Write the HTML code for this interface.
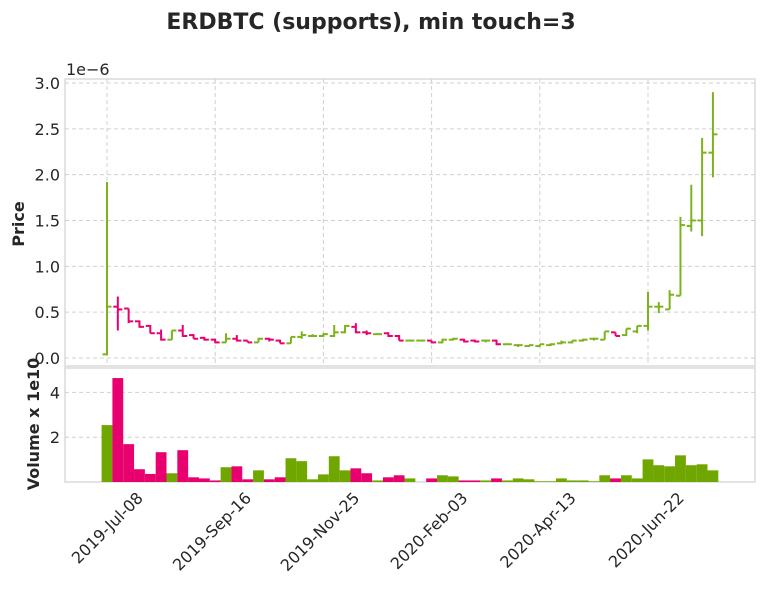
<!DOCTYPE html>
<html><head><meta charset="utf-8"><style>
body{margin:0;background:#fff;}
svg text{font-family:"DejaVu Sans","Liberation Sans",sans-serif;fill:#262626;}
</style></head><body>
<svg id="chart" width="764" height="585" xmlns="http://www.w3.org/2000/svg">
<text x="371" y="29" text-anchor="middle" font-size="22" font-weight="bold">ERDBTC (supports), min touch=3</text>
<g id="price"></g><g id="vol"></g>
</svg>
<script>
const dateLabels=['2019-Jul-08','2019-Sep-16','2019-Nov-25','2020-Feb-03','2020-Apr-13','2020-Jun-22'];
const dateIdx=[0,10,20,30,40,50];
const priceTicks=[0,0.5,1,1.5,2,2.5,3];
const volTicks=[2,4];
const opens=[0.04,0.56,0.54,0.40,0.35,0.27,0.20,0.30,0.25,0.22,0.20,0.17,0.21,0.19,0.17,0.21,0.19,0.16,0.23,0.24,0.24,0.24,0.28,0.34,0.28,0.26,0.27,0.24,0.19,0.19,0.19,0.17,0.20,0.20,0.19,0.19,0.19,0.15,0.14,0.13,0.13,0.14,0.16,0.17,0.19,0.21,0.20,0.28,0.25,0.29,0.35,0.56,0.53,0.68,1.44,1.50,2.24];
const highs=[1.92,0.67,0.54,0.41,0.36,0.31,0.30,0.36,0.26,0.23,0.21,0.27,0.25,0.19,0.22,0.22,0.20,0.23,0.29,0.26,0.27,0.36,0.36,0.38,0.30,0.27,0.28,0.25,0.20,0.19,0.19,0.21,0.22,0.21,0.20,0.20,0.20,0.16,0.15,0.14,0.15,0.16,0.19,0.19,0.21,0.22,0.29,0.28,0.32,0.35,0.72,0.61,0.74,1.54,1.89,2.40,2.90];
const lows=[0.03,0.30,0.38,0.33,0.27,0.19,0.20,0.23,0.21,0.19,0.16,0.17,0.18,0.17,0.17,0.18,0.16,0.16,0.21,0.23,0.23,0.23,0.27,0.27,0.25,0.26,0.23,0.19,0.18,0.18,0.16,0.16,0.19,0.17,0.17,0.17,0.14,0.15,0.12,0.12,0.12,0.13,0.15,0.16,0.18,0.19,0.20,0.24,0.24,0.27,0.30,0.49,0.53,0.68,1.38,1.33,1.97];
const closes=[0.56,0.53,0.40,0.34,0.27,0.20,0.30,0.24,0.21,0.20,0.17,0.21,0.19,0.17,0.21,0.20,0.16,0.23,0.25,0.24,0.26,0.28,0.35,0.28,0.27,0.26,0.24,0.19,0.19,0.19,0.17,0.20,0.21,0.18,0.18,0.19,0.15,0.15,0.14,0.14,0.15,0.15,0.17,0.19,0.20,0.21,0.29,0.24,0.32,0.35,0.56,0.56,0.69,1.45,1.50,2.24,2.44];
const volumes=[2.54,4.64,1.69,0.57,0.36,1.33,0.39,1.42,0.21,0.16,0.07,0.66,0.70,0.12,0.52,0.12,0.21,1.06,0.93,0.12,0.34,1.15,0.52,0.61,0.39,0.07,0.21,0.30,0.16,0,0.16,0.30,0.25,0.07,0.07,0.07,0.16,0.07,0.16,0.12,0.03,0.03,0.16,0.07,0.07,0.03,0.30,0.16,0.30,0.16,1.01,0.75,0.70,1.19,0.75,0.79,0.52];

const NS='http://www.w3.org/2000/svg';
const L=65,R=755,PT=79,PB=366,VT=368,VB=482;
const x=i=>107+i*10.82;
const yP=v=>358-v*91.67;
const yV=v=>482-v*22.4;
const G='#7db21c',Rd='#e8006f',VG='#6fa600',VR='#e8006f';
function el(p,t,a){const e=document.createElementNS(NS,t);for(const k in a)e.setAttribute(k,a[k]);p.appendChild(e);return e;}
const pg=document.getElementById('price'),vg=document.getElementById('vol');
const pf=el(pg,'rect',{x:L,y:PT,width:R-L,height:PB-PT,fill:'#fff',stroke:'#e3e3e3','stroke-width':2});

const vf=el(vg,'rect',{x:L,y:VT,width:R-L,height:VB-VT,fill:'#fff',stroke:'#e3e3e3','stroke-width':2});

priceTicks.forEach(t=>{
 const g=el(pg,'line',{x1:L,x2:R,y1:yP(t),y2:yP(t),stroke:'#d0d0d0','stroke-dasharray':'4,3'});
 
 const tx=el(pg,'text',{x:60,y:yP(t)+6,'text-anchor':'end','font-size':16});tx.textContent=t.toFixed(1);
 
});
volTicks.forEach(t=>{
 const g=el(vg,'line',{x1:L,x2:R,y1:yV(t),y2:yV(t),stroke:'#d0d0d0','stroke-dasharray':'4,3'});
 
 const tx=el(vg,'text',{x:60,y:yV(t)+6,'text-anchor':'end','font-size':16});tx.textContent=t;
 
});
dateIdx.forEach((d,k)=>{
 [[PT,PB],[VT,VB]].forEach(r=>{
  const g=el(pg,'line',{x1:x(d),x2:x(d),y1:r[0],y2:r[1],stroke:'#d0d0d0','stroke-dasharray':'4,3'});
  
 });
 const tx=el(vg,'text',{x:0,y:0,'text-anchor':'end','font-size':16,transform:`translate(${x(d)+37},${VB+17}) rotate(-45)`});
 tx.textContent=dateLabels[k];
 
});
opens.forEach((o,i)=>{
 const c=closes[i],col=c>=o?G:Rd,xc=x(i);
 const g=el(pg,'g',{stroke:col,'stroke-width':2});
 
 el(g,'line',{x1:xc,x2:xc,y1:yP(highs[i]),y2:yP(lows[i])});
 el(g,'line',{x1:xc-4.5,x2:xc,y1:yP(o),y2:yP(o)});
 el(g,'line',{x1:xc,x2:xc+4.5,y1:yP(c),y2:yP(c)});
 const v=volumes[i],h=v*22.4;
 if(h>0){const b=el(vg,'rect',{x:xc-5.41,y:yV(v),width:10.82,height:h,fill:c>=o?VG:VR});
 }
});
const e6=el(pg,'text',{x:66,y:75,'font-size':16});e6.textContent='1e\u22126';

const yl=el(pg,'text',{x:0,y:0,'text-anchor':'middle','font-size':16,'font-weight':'bold',transform:'translate(24,224) rotate(-90)'});yl.textContent='Price';

const vl=el(vg,'text',{x:0,y:0,'text-anchor':'middle','font-size':16,'font-weight':'bold',transform:'translate(39,424) rotate(-90)'});vl.textContent='Volume x 1e10';

</script>
</body></html>
